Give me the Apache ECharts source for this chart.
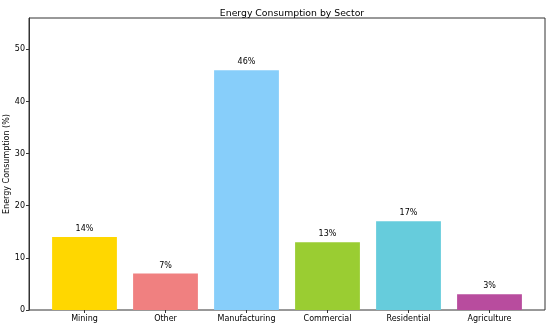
<!DOCTYPE html>
<html>
<head>
<meta charset="utf-8">
<script src="https://cdn.jsdelivr.net/npm/echarts@6/dist/echarts.min.js"></script>
<style>html,body{margin:0;padding:0;background:#fff}#c{width:550px;height:327px}</style>
</head>
<body>
<div id="c"></div>
<script>
const categories = ['Mining', 'Other', 'Manufacturing', 'Commercial', 'Residential', 'Agriculture'];
const values = [14, 7, 46, 13, 17, 3];
const yTicks = [0, 10, 20, 30, 40, 50];
const barColors = ['#FFD700', '#F08080', '#87CEFA', '#9ACD32', '#66CCDC', '#B84C9E'];

const font = 'DejaVu Sans';
const chart = echarts.init(document.getElementById('c'), null, {renderer: 'canvas'});
chart.setOption({
  animation: false,
  backgroundColor: '#fff',
  title: {
    text: 'Energy Consumption by Sector',
    left: 287, top: 4, textAlign: 'center',
    textStyle: {fontFamily: font, fontSize: 9.3, fontWeight: 'normal', color: '#000'}
  },
  grid: [
    {left: 29, right: 5, top: 18, bottom: 17, show: true, borderColor: '#333', borderWidth: 1,
     backgroundColor: 'transparent', containLabel: false, outerBoundsMode: 'none'},
    {left: 44, right: 20, top: 18, bottom: 17, containLabel: false, outerBoundsMode: 'none'}
  ],
  xAxis: [
    {gridIndex: 0, type: 'value', min: 0, max: 1, show: false},
    {gridIndex: 1, type: 'category', data: categories,
     axisLine: {show: false},
     axisTick: {show: true, alignWithLabel: true, length: 3, lineStyle: {color: '#333'}},
     axisLabel: {fontFamily: font, fontSize: 8, color: '#000', margin: 5, interval: 0}}
  ],
  yAxis: [
    {gridIndex: 0, type: 'value', min: 0, max: 56, interval: 10,
     name: 'Energy Consumption (%)', nameLocation: 'middle', nameGap: 18, nameMoveOverlap: false,
     nameTextStyle: {fontFamily: font, fontSize: 8, color: '#000'},
     axisLine: {show: true, lineStyle: {color: '#333'}},
     axisTick: {show: true, length: 3, lineStyle: {color: '#333'}},
     splitLine: {show: false},
     axisLabel: {fontFamily: font, fontSize: 8, color: '#000', margin: 4, showMaxLabel: false,
       formatter: v => yTicks.includes(v) ? String(v) : ''}},
    {gridIndex: 1, type: 'value', min: 0, max: 56, show: false}
  ],
  series: [{
    type: 'bar', xAxisIndex: 1, yAxisIndex: 1,
    barWidth: '80%',
    data: values.map((v, i) => ({value: v, itemStyle: {color: barColors[i]}})),
    label: {show: true, position: 'top', distance: 4, formatter: '{c}%',
      fontFamily: font, fontSize: 8, color: '#000'}
  }]
});
</script>
</body>
</html>
